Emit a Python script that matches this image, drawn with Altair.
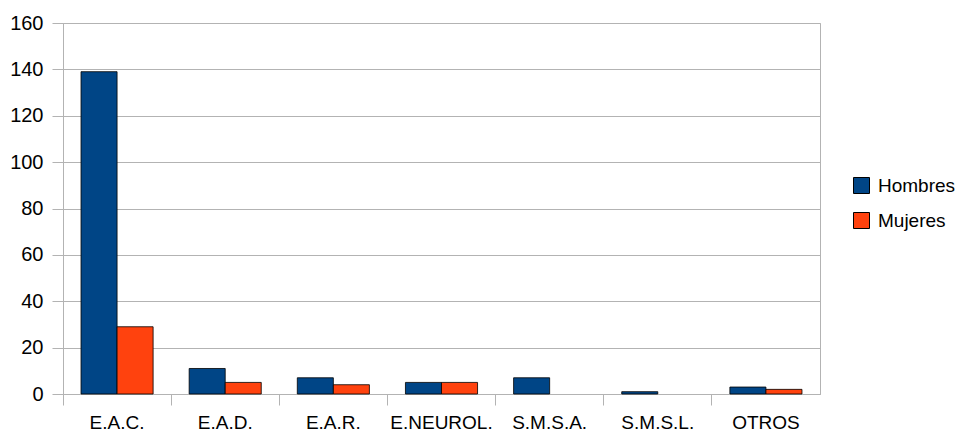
import altair as alt
import pandas as pd

categories = ["E.A.C.", "E.A.D.", "E.A.R.", "E.NEUROL.", "S.M.S.A.", "S.M.S.L.", "OTROS"]
hombres = [139, 11, 7, 5, 7, 1, 3]
mujeres = [29, 5, 4, 5, 0, 0, 2]
series = ["Hombres", "Mujeres"]
colors = ["#004586", "#ff420e"]

rows = []
for c, h, m in zip(categories, hombres, mujeres):
    rows.append({"cat": c, "serie": "Hombres", "val": h})
    rows.append({"cat": c, "serie": "Mujeres", "val": m})
df = pd.DataFrame(rows)

W, H = 757, 371
FONT = "Liberation Sans"

chart = alt.Chart(df).transform_filter(alt.datum.val > 0).mark_bar(
    stroke="#000000", strokeWidth=1, strokeOpacity=0.8
).encode(
    x=alt.X("cat:N", sort=categories, title=None,
            scale=alt.Scale(domain=categories, paddingInner=0, paddingOuter=0),
            axis=alt.Axis(bandPosition=0, labelAngle=0,
                          tickSize=11, tickColor="#b3b3b3", domainColor="#b3b3b3",
                          labelPadding=8, grid=False, labelFontSize=19,
                          labelFont=FONT, labelColor="#000000")),
    xOffset=alt.XOffset("serie:N", sort=series,
                        scale=alt.Scale(domain=series, paddingInner=0, paddingOuter=0.5)),
    y=alt.Y("val:Q", title=None,
            scale=alt.Scale(domain=[0, 160], nice=False),
            axis=alt.Axis(values=list(range(0, 161, 20)), tickSize=11,
                          tickColor="#b3b3b3", domainColor="#b3b3b3",
                          gridColor="#b3b3b3", labelPadding=9, labelFontSize=20,
                          labelFont=FONT, labelColor="#000000")),
    color=alt.Color("serie:N", sort=series,
                    scale=alt.Scale(domain=series, range=colors),
                    legend=alt.Legend(title=None, orient="none", legendX=789, legendY=153,
                                      symbolType="square", symbolSize=256,
                                      symbolStrokeColor="#000000", symbolStrokeWidth=1,
                                      labelFontSize=19, labelFont=FONT,
                                      labelColor="#000000", rowPadding=14,
                                      labelOffset=7)),
).properties(
    width=W, height=H,
    autosize=alt.AutoSizeParams(type="none"),
    padding={"left": 55, "top": 15, "right": 135, "bottom": 37},
).configure_view(stroke="#b3b3b3", strokeWidth=1)

chart.save("out.html", embed_options={"renderer": "svg", "actions": False})
